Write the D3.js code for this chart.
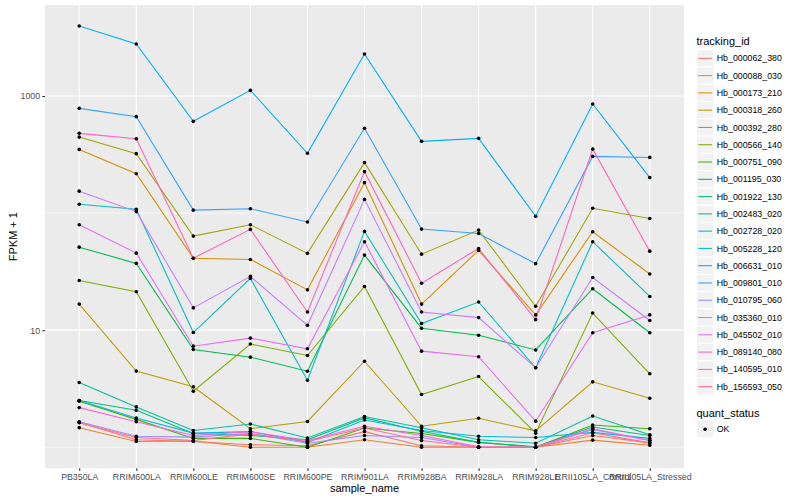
<!DOCTYPE html>
<html>
<head>
<meta charset="utf-8">
<script src="https://cdn.jsdelivr.net/npm/d3@7"></script>
<style>
  body { margin: 0; background: #fff; }
  text { font-family: "Liberation Sans", Arial, sans-serif; }
</style>
</head>
<body>
<svg id="chart" width="800" height="500"></svg>
<script>
// Samples on the x axis
const samples = ["PB350LA", "RRIM600LA", "RRIM600LE", "RRIM600SE", "RRIM600PE", "RRIM901LA",
  "RRIM928BA", "RRIM928LA", "RRIM928LE", "RRII105LA_Control", "RRII105LA_Stressed"];

const trackingIds = ["Hb_000062_380", "Hb_000088_030", "Hb_000173_210", "Hb_000318_260", "Hb_000392_280",
  "Hb_000566_140", "Hb_000751_090", "Hb_001195_030", "Hb_001922_130", "Hb_002483_020",
  "Hb_002728_020", "Hb_005228_120", "Hb_006631_010", "Hb_009801_010", "Hb_010795_060",
  "Hb_035360_010", "Hb_045502_010", "Hb_089140_080", "Hb_140595_010", "Hb_156593_050"];

// FPKM per sample, one array per gene
const hb_000062_380 = [0.63, 0.16, 0.12, 0.05, 0.03, 0.36, 0.03, 0, 0, 0.26, 0.09];
const hb_000088_030 = [0.47, 0.12, 0.13, 0, 0, 0.16, 0, 0, 0, 0.15, 0.04];
const hb_000173_210 = [349, 216, 40.2, 39.2, 21.1, 181, 15.7, 47, 12.5, 68.3, 29.2];
const hb_000318_260 = [15.7, 3.47, 2.28, 0.44, 0.66, 4.43, 0.51, 0.77, 0.38, 2.62, 1.62];
const hb_000392_280 = [445, 321, 62.6, 78.6, 44.3, 269, 43.6, 70.6, 15, 109, 89];
const hb_000566_140 = [25.6, 20.3, 2.01, 6.62, 5.08, 22.6, 1.82, 3.02, 0.32, 13, 3.24];
const hb_000751_090 = [1.47, 0.73, 0.19, 0.19, 0, 0.46, 0.31, 0.10, 0, 0.55, 0.44];
const hb_001195_030 = [50.2, 36.2, 5.84, 4.88, 3.46, 42.8, 9.4, 8.06, 5.78, 21.6, 8.5];
const hb_001922_130 = [1.51, 1.07, 0.31, 0.26, 0.16, 0.78, 0.37, 0.10, 0.01, 0.49, 0.26];
const hb_002483_020 = [2.57, 1.21, 0.39, 0.58, 0.20, 0.83, 0.47, 0.16, 0.08, 0.85, 0.28];
const hb_002728_020 = [118, 107, 8.55, 26.7, 2.74, 68.8, 10.4, 16.4, 3.77, 56, 18.4];
const hb_005228_120 = [1.51, 0.78, 0.32, 0.36, 0.10, 0.71, 0.39, 0.24, 0.21, 0.34, 0.19];
const hb_006631_010 = [3960, 2780, 607, 1118, 323, 2285, 409, 434, 93, 854, 200];
const hb_009801_010 = [784, 666, 105, 108, 83, 529, 72, 66, 36, 304, 298];
const hb_010795_060 = [0.65, 0.24, 0.22, 0.31, 0.08, 0.26, 0.21, 0, 0, 0.42, 0.14];
const hb_035360_010 = [153, 102, 14.5, 27.8, 10, 130, 13.3, 11.8, 3.77, 27.2, 11.1];
const hb_045502_010 = [78.6, 44.5, 6.3, 7.55, 5.93, 56, 5.62, 4.93, 0.67, 8.5, 12.5];
const hb_089140_080 = [1.18, 0.65, 0.26, 0.36, 0.14, 0.51, 0.26, 0.01, 0, 0.44, 0.14];
const hb_140595_010 = [479, 431, 40.2, 71.6, 13.3, 225, 24.2, 48.9, 11.3, 351, 46.3];
const hb_156593_050 = [0.62, 0.21, 0.14, 0.30, 0.12, 0.46, 0.14, 0, 0, 0.33, 0.09];

const seriesValues = [hb_000062_380, hb_000088_030, hb_000173_210, hb_000318_260, hb_000392_280,
  hb_000566_140, hb_000751_090, hb_001195_030, hb_001922_130, hb_002483_020,
  hb_002728_020, hb_005228_120, hb_006631_010, hb_009801_010, hb_010795_060,
  hb_035360_010, hb_045502_010, hb_089140_080, hb_140595_010, hb_156593_050];

const yTicks = [10, 1000];
const yMinorTicks = [1, 100];
const quantStatus = ["OK"];

// ggplot default hue palette for 20 levels
const palette = ["#F8766D", "#EA8331", "#D89000", "#C09B00", "#A3A500", "#7CAE00", "#39B600", "#00BB4E",
  "#00BF7D", "#00C1A3", "#00BFC4", "#00BAE0", "#00B0F6", "#35A2FF", "#9590FF", "#C77CFF",
  "#E76BF3", "#FA62DB", "#FF62BC", "#FF6C91"];

const svg = d3.select("#chart");
const panel = { left: 45, right: 684, top: 5, bottom: 468.3 };

const series = trackingIds.map((id, i) => ({
  id,
  values: samples.map((s, j) => ({ sample: s, y: seriesValues[i][j] + 1 }))
}));

const color = d3.scaleOrdinal().domain(trackingIds).range(palette);

const x = d3.scalePoint()
  .domain(samples)
  .range([panel.left, panel.right])
  .padding(0.6);

// log scale with 5% expansion like ggplot
const allY = series.flatMap(s => s.values.map(v => v.y));
const lo = Math.log10(d3.min(allY)), hi = Math.log10(d3.max(allY));
const pad = (hi - lo) * 0.05;
const y = d3.scaleLog()
  .domain([Math.pow(10, lo - pad), Math.pow(10, hi + pad)])
  .range([panel.bottom, panel.top]);

// Panel background
svg.append("rect")
  .attr("x", panel.left).attr("y", panel.top)
  .attr("width", panel.right - panel.left)
  .attr("height", panel.bottom - panel.top)
  .attr("fill", "#EBEBEB");

// Grid
svg.append("g").selectAll("line")
  .data(yMinorTicks)
  .enter().append("line")
  .attr("x1", panel.left).attr("x2", panel.right)
  .attr("y1", d => y(d)).attr("y2", d => y(d))
  .attr("stroke", "#fff").attr("stroke-width", 0.55);

svg.append("g").selectAll("line")
  .data(yTicks)
  .enter().append("line")
  .attr("x1", panel.left).attr("x2", panel.right)
  .attr("y1", d => y(d)).attr("y2", d => y(d))
  .attr("stroke", "#fff").attr("stroke-width", 1.1);

svg.append("g").selectAll("line")
  .data(samples)
  .enter().append("line")
  .attr("x1", d => x(d)).attr("x2", d => x(d))
  .attr("y1", panel.top).attr("y2", panel.bottom)
  .attr("stroke", "#fff").attr("stroke-width", 1.1);

// Lines
const line = d3.line()
  .x(d => x(d.sample))
  .y(d => y(d.y));

svg.append("g").selectAll("path")
  .data(series)
  .enter().append("path")
  .attr("fill", "none")
  .attr("stroke", d => color(d.id))
  .attr("stroke-width", 1.07)
  .attr("d", d => line(d.values));

// Points
svg.append("g").selectAll("circle")
  .data(series.flatMap(s => s.values))
  .enter().append("circle")
  .attr("cx", d => x(d.sample))
  .attr("cy", d => y(d.y))
  .attr("r", 1.8)
  .attr("fill", "#000");

// Axes
const yAxis = d3.axisLeft(y)
  .tickValues(yTicks)
  .tickFormat(d3.format("d"))
  .tickSize(2.7)
  .tickPadding(2.2);

const xAxis = d3.axisBottom(x)
  .tickSize(2.7)
  .tickPadding(3.2);

const gy = svg.append("g")
  .attr("transform", `translate(${panel.left},0)`)
  .call(yAxis);

const gx = svg.append("g")
  .attr("transform", `translate(0,${panel.bottom})`)
  .call(xAxis);

[gx, gy].forEach(g => {
  g.select(".domain").remove();
  g.selectAll(".tick line").attr("stroke", "#333333").attr("stroke-width", 1.07);
  g.selectAll(".tick text")
    .attr("fill", "#4D4D4D")
    .attr("font-size", "8.8px")
    .style("font-family", '"Liberation Sans", Arial, sans-serif');
});

// Axis titles
svg.append("text")
  .attr("text-anchor", "middle")
  .attr("x", (panel.left + panel.right) / 2)
  .attr("y", 492)
  .attr("font-size", "11px")
  .attr("fill", "#000")
  .text("sample_name");

svg.append("text")
  .attr("text-anchor", "middle")
  .attr("transform", "rotate(-90)")
  .attr("x", -(panel.top + panel.bottom) / 2)
  .attr("y", 17)
  .attr("font-size", "11px")
  .attr("fill", "#000")
  .text("FPKM + 1");

// Legend: tracking_id
const keySize = 17.28;
const legendX = 696.5;
const legend = svg.append("g");

legend.append("text")
  .attr("x", legendX)
  .attr("y", 44.5)
  .attr("font-size", "11px")
  .text("tracking_id");

const items = legend.selectAll(".item")
  .data(trackingIds)
  .enter().append("g")
  .attr("class", "item")
  .attr("transform", (d, i) => `translate(${legendX},${49.7 + i * keySize})`);

items.append("rect")
  .attr("width", keySize).attr("height", keySize)
  .attr("fill", "#F2F2F2")
  .attr("stroke", "#fff")
  .attr("stroke-width", 1);

items.append("line")
  .attr("x1", 1.7).attr("x2", keySize - 1.7)
  .attr("y1", keySize / 2).attr("y2", keySize / 2)
  .attr("stroke", d => color(d))
  .attr("stroke-width", 1.07);

items.append("text")
  .attr("x", keySize + 3)
  .attr("y", keySize / 2 + 3.1)
  .attr("font-size", "8.8px")
  .text(d => d);

// Legend: quant_status
const legend2 = svg.append("g");
legend2.append("text")
  .attr("x", legendX)
  .attr("y", 416.5)
  .attr("font-size", "11px")
  .text("quant_status");

const items2 = legend2.selectAll(".item")
  .data(quantStatus)
  .enter().append("g")
  .attr("transform", (d, i) => `translate(${legendX},${420.6 + i * keySize})`);

items2.append("rect")
  .attr("width", keySize).attr("height", keySize)
  .attr("fill", "#F2F2F2")
  .attr("stroke", "#fff")
  .attr("stroke-width", 1);

items2.append("circle")
  .attr("cx", keySize / 2).attr("cy", keySize / 2)
  .attr("r", 1.8)
  .attr("fill", "#000");

items2.append("text")
  .attr("x", keySize + 3)
  .attr("y", keySize / 2 + 3.1)
  .attr("font-size", "8.8px")
  .text(d => d);
</script>
</body>
</html>
